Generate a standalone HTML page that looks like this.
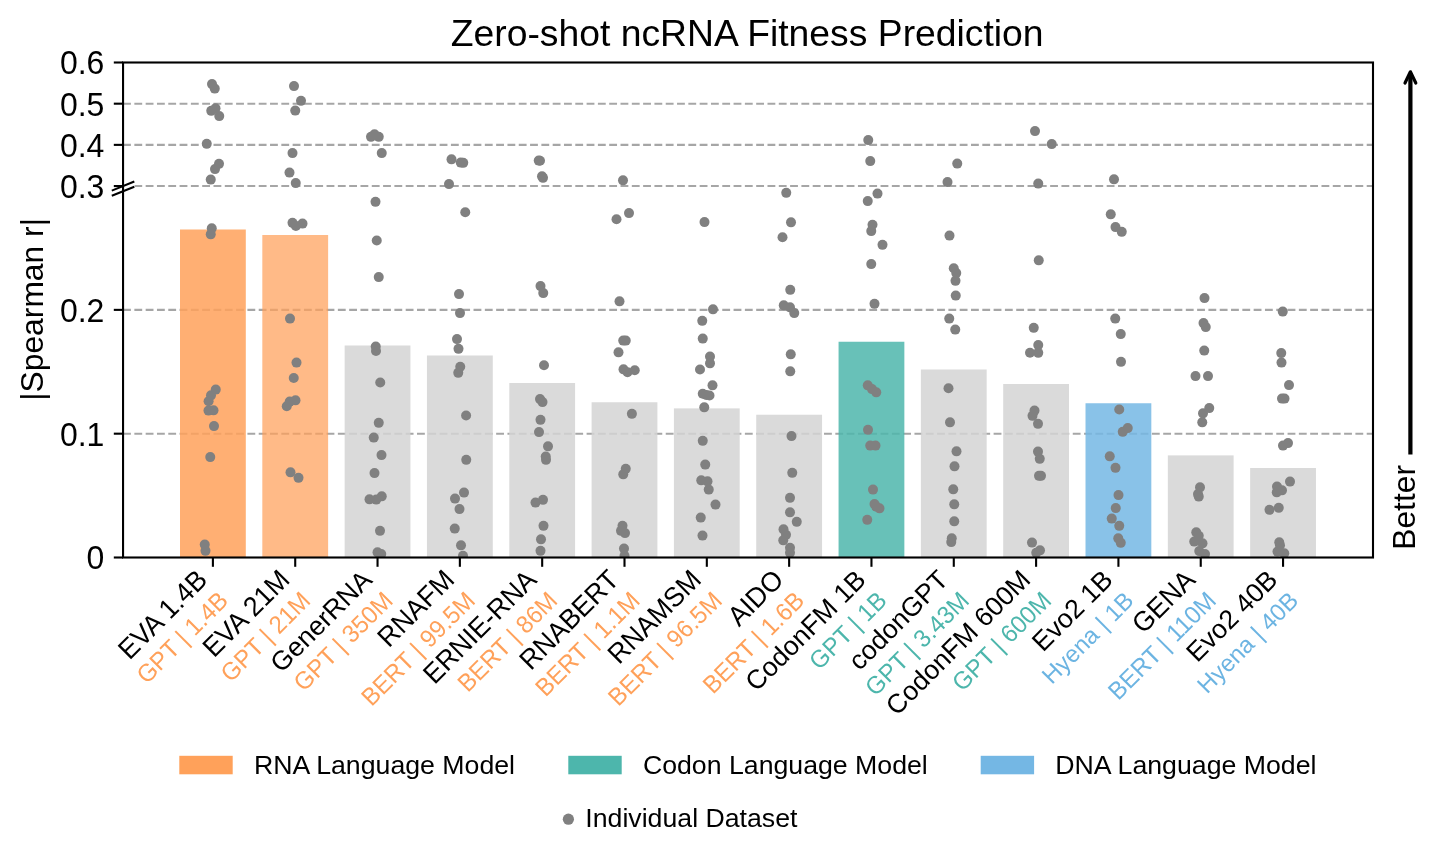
<!DOCTYPE html>
<html lang="en"><head><meta charset="utf-8"><title>Zero-shot ncRNA Fitness Prediction</title>
<style>html,body{margin:0;padding:0;background:#fff}body{width:1440px;height:852px;overflow:hidden}svg{display:block}text{font-family:"Liberation Sans",Arial,Helvetica,sans-serif;fill:#000}.yt{font-size:32px;text-anchor:end}.xl{font-size:26.7px;text-anchor:end}.xs{font-size:23.9px;text-anchor:end}.lg{font-size:26.7px}</style></head><body>
<svg width="1440" height="852" viewBox="0 0 1440 852">
<rect width="1440" height="852" fill="#fff"/>
<defs><clipPath id="ax"><rect x="123.05" y="62.5" width="1249.95" height="495.0"/></clipPath></defs>
<text x="747.2" y="46.3" font-size="37.3" text-anchor="middle">Zero-shot ncRNA Fitness Prediction</text>
<g stroke="#A6A6A6" stroke-width="2.1" stroke-dasharray="7.83 3.476" fill="none">
<line x1="123.05" y1="433.68" x2="1373.0" y2="433.68"/>
<line x1="123.05" y1="309.87" x2="1373.0" y2="309.87"/>
<line x1="123.05" y1="186.05" x2="1373.0" y2="186.05"/>
<line x1="123.05" y1="144.87" x2="1373.0" y2="144.87"/>
<line x1="123.05" y1="103.68" x2="1373.0" y2="103.68"/>
</g>
<g>
<rect x="180.00" y="229.50" width="65.8" height="328.00" fill="#FFA15A" fill-opacity="0.85"/>
<rect x="262.32" y="235.00" width="65.8" height="322.50" fill="#FFA15A" fill-opacity="0.73"/>
<rect x="344.64" y="345.50" width="65.8" height="212.00" fill="#D3D3D3" fill-opacity="0.85"/>
<rect x="426.96" y="355.50" width="65.8" height="202.00" fill="#D3D3D3" fill-opacity="0.85"/>
<rect x="509.28" y="383.00" width="65.8" height="174.50" fill="#D3D3D3" fill-opacity="0.85"/>
<rect x="591.60" y="402.25" width="65.8" height="155.25" fill="#D3D3D3" fill-opacity="0.85"/>
<rect x="673.92" y="408.40" width="65.8" height="149.10" fill="#D3D3D3" fill-opacity="0.85"/>
<rect x="756.24" y="414.75" width="65.8" height="142.75" fill="#D3D3D3" fill-opacity="0.85"/>
<rect x="838.56" y="341.75" width="65.8" height="215.75" fill="#4DB6AC" fill-opacity="0.85"/>
<rect x="920.88" y="369.50" width="65.8" height="188.00" fill="#D3D3D3" fill-opacity="0.85"/>
<rect x="1003.20" y="384.00" width="65.8" height="173.50" fill="#D3D3D3" fill-opacity="0.85"/>
<rect x="1085.52" y="403.25" width="65.8" height="154.25" fill="#74B7E4" fill-opacity="0.85"/>
<rect x="1167.84" y="455.40" width="65.8" height="102.10" fill="#D3D3D3" fill-opacity="0.85"/>
<rect x="1250.16" y="468.00" width="65.8" height="89.50" fill="#D3D3D3" fill-opacity="0.85"/>
</g>
<g fill="#808080" clip-path="url(#ax)">
<circle cx="212" cy="84.10" r="5"/>
<circle cx="214.75" cy="88.60" r="5"/>
<circle cx="215.5" cy="108.35" r="5"/>
<circle cx="211.25" cy="110.85" r="5"/>
<circle cx="219.25" cy="116.10" r="5"/>
<circle cx="206.75" cy="143.85" r="5"/>
<circle cx="219" cy="163.85" r="5"/>
<circle cx="215" cy="169.10" r="5"/>
<circle cx="210.75" cy="179.60" r="5"/>
<circle cx="211.75" cy="228.35" r="5"/>
<circle cx="210.75" cy="234.35" r="5"/>
<circle cx="215.75" cy="389.60" r="5"/>
<circle cx="211" cy="395.35" r="5"/>
<circle cx="208.6" cy="401.25" r="5"/>
<circle cx="208.5" cy="410.60" r="5"/>
<circle cx="213.5" cy="410.35" r="5"/>
<circle cx="214" cy="426.10" r="5"/>
<circle cx="210.25" cy="457.10" r="5"/>
<circle cx="204.75" cy="544.60" r="5"/>
<circle cx="205.5" cy="550.85" r="5"/>
<circle cx="294" cy="86.10" r="5"/>
<circle cx="301" cy="100.85" r="5"/>
<circle cx="295.25" cy="110.60" r="5"/>
<circle cx="292.5" cy="153.10" r="5"/>
<circle cx="289.5" cy="172.60" r="5"/>
<circle cx="295.75" cy="183.10" r="5"/>
<circle cx="292.5" cy="222.85" r="5"/>
<circle cx="295.9" cy="225.95" r="5"/>
<circle cx="302.5" cy="223.60" r="5"/>
<circle cx="290" cy="318.60" r="5"/>
<circle cx="296.5" cy="362.60" r="5"/>
<circle cx="293.75" cy="377.95" r="5"/>
<circle cx="295.5" cy="400.35" r="5"/>
<circle cx="289.75" cy="401.60" r="5"/>
<circle cx="286.75" cy="406.25" r="5"/>
<circle cx="290.5" cy="472.35" r="5"/>
<circle cx="298.5" cy="477.85" r="5"/>
<circle cx="371" cy="136.85" r="5"/>
<circle cx="374.5" cy="134.35" r="5"/>
<circle cx="378.75" cy="136.85" r="5"/>
<circle cx="381.75" cy="153.10" r="5"/>
<circle cx="375.5" cy="201.85" r="5"/>
<circle cx="376.75" cy="240.45" r="5"/>
<circle cx="378.75" cy="277.10" r="5"/>
<circle cx="375.75" cy="346.60" r="5"/>
<circle cx="376" cy="350.95" r="5"/>
<circle cx="380.25" cy="382.45" r="5"/>
<circle cx="378.75" cy="422.85" r="5"/>
<circle cx="373.75" cy="437.60" r="5"/>
<circle cx="381.5" cy="455.10" r="5"/>
<circle cx="374.5" cy="473.10" r="5"/>
<circle cx="369.5" cy="499.35" r="5"/>
<circle cx="376.25" cy="499.60" r="5"/>
<circle cx="381.75" cy="496.35" r="5"/>
<circle cx="380" cy="530.85" r="5"/>
<circle cx="377.5" cy="552.35" r="5"/>
<circle cx="381.25" cy="554.10" r="5"/>
<circle cx="451.5" cy="159.35" r="5"/>
<circle cx="460.75" cy="162.60" r="5"/>
<circle cx="463.25" cy="162.85" r="5"/>
<circle cx="449" cy="184.10" r="5"/>
<circle cx="465.25" cy="212.25" r="5"/>
<circle cx="459" cy="294.10" r="5"/>
<circle cx="460" cy="313.10" r="5"/>
<circle cx="457" cy="339.10" r="5"/>
<circle cx="458.5" cy="348.85" r="5"/>
<circle cx="460.25" cy="366.75" r="5"/>
<circle cx="458.25" cy="372.85" r="5"/>
<circle cx="466.1" cy="415.55" r="5"/>
<circle cx="466.25" cy="459.85" r="5"/>
<circle cx="464" cy="492.60" r="5"/>
<circle cx="455" cy="498.60" r="5"/>
<circle cx="459.5" cy="509.10" r="5"/>
<circle cx="454.75" cy="528.60" r="5"/>
<circle cx="461" cy="545.35" r="5"/>
<circle cx="463" cy="555.85" r="5"/>
<circle cx="538.75" cy="160.60" r="5"/>
<circle cx="540" cy="160.75" r="5"/>
<circle cx="542" cy="176.35" r="5"/>
<circle cx="543" cy="177.85" r="5"/>
<circle cx="540.5" cy="286.10" r="5"/>
<circle cx="543.25" cy="293.10" r="5"/>
<circle cx="544" cy="365.25" r="5"/>
<circle cx="540" cy="399.10" r="5"/>
<circle cx="542.5" cy="402.10" r="5"/>
<circle cx="540.5" cy="419.85" r="5"/>
<circle cx="539" cy="432.10" r="5"/>
<circle cx="548" cy="446.35" r="5"/>
<circle cx="545.75" cy="456.60" r="5"/>
<circle cx="546" cy="459.85" r="5"/>
<circle cx="543" cy="499.85" r="5"/>
<circle cx="535.5" cy="502.60" r="5"/>
<circle cx="543.5" cy="525.85" r="5"/>
<circle cx="541" cy="539.35" r="5"/>
<circle cx="540.5" cy="550.85" r="5"/>
<circle cx="623" cy="180.35" r="5"/>
<circle cx="629" cy="213.10" r="5"/>
<circle cx="616.5" cy="219.25" r="5"/>
<circle cx="619.5" cy="301.35" r="5"/>
<circle cx="623.25" cy="340.60" r="5"/>
<circle cx="625.75" cy="340.60" r="5"/>
<circle cx="618.5" cy="352.35" r="5"/>
<circle cx="623.5" cy="369.35" r="5"/>
<circle cx="627.5" cy="372.25" r="5"/>
<circle cx="634.75" cy="370.25" r="5"/>
<circle cx="631.9" cy="413.85" r="5"/>
<circle cx="625.75" cy="468.85" r="5"/>
<circle cx="623.25" cy="474.35" r="5"/>
<circle cx="622.5" cy="525.85" r="5"/>
<circle cx="621" cy="530.85" r="5"/>
<circle cx="625" cy="533.10" r="5"/>
<circle cx="624" cy="548.60" r="5"/>
<circle cx="624.5" cy="555.85" r="5"/>
<circle cx="704.5" cy="222.10" r="5"/>
<circle cx="713" cy="309.35" r="5"/>
<circle cx="702.25" cy="320.85" r="5"/>
<circle cx="702.75" cy="338.60" r="5"/>
<circle cx="710" cy="356.60" r="5"/>
<circle cx="710" cy="363.35" r="5"/>
<circle cx="700" cy="369.45" r="5"/>
<circle cx="712.5" cy="385.35" r="5"/>
<circle cx="702.75" cy="393.75" r="5"/>
<circle cx="706.25" cy="394.95" r="5"/>
<circle cx="709.5" cy="395.45" r="5"/>
<circle cx="704.25" cy="407.35" r="5"/>
<circle cx="702.75" cy="440.85" r="5"/>
<circle cx="705.25" cy="464.60" r="5"/>
<circle cx="701.25" cy="480.35" r="5"/>
<circle cx="707.5" cy="481.35" r="5"/>
<circle cx="708.75" cy="489.60" r="5"/>
<circle cx="715.5" cy="504.60" r="5"/>
<circle cx="700.75" cy="517.60" r="5"/>
<circle cx="702.5" cy="535.60" r="5"/>
<circle cx="786.25" cy="192.85" r="5"/>
<circle cx="791" cy="222.35" r="5"/>
<circle cx="782.5" cy="237.25" r="5"/>
<circle cx="790.25" cy="289.85" r="5"/>
<circle cx="783.75" cy="305.35" r="5"/>
<circle cx="790" cy="307.35" r="5"/>
<circle cx="794.25" cy="313.10" r="5"/>
<circle cx="790.75" cy="354.35" r="5"/>
<circle cx="790.25" cy="371.35" r="5"/>
<circle cx="791.5" cy="436.10" r="5"/>
<circle cx="792.25" cy="472.85" r="5"/>
<circle cx="790" cy="497.85" r="5"/>
<circle cx="790" cy="512.35" r="5"/>
<circle cx="796.75" cy="521.85" r="5"/>
<circle cx="783.5" cy="529.35" r="5"/>
<circle cx="786" cy="534.85" r="5"/>
<circle cx="783.25" cy="540.35" r="5"/>
<circle cx="790" cy="547.85" r="5"/>
<circle cx="790" cy="552.85" r="5"/>
<circle cx="868.25" cy="140.10" r="5"/>
<circle cx="870.25" cy="161.10" r="5"/>
<circle cx="877.5" cy="193.60" r="5"/>
<circle cx="867.75" cy="201.10" r="5"/>
<circle cx="872.5" cy="224.75" r="5"/>
<circle cx="871.25" cy="231.10" r="5"/>
<circle cx="882.5" cy="244.85" r="5"/>
<circle cx="871.25" cy="264.10" r="5"/>
<circle cx="874.5" cy="303.85" r="5"/>
<circle cx="867.75" cy="385.35" r="5"/>
<circle cx="872" cy="389.10" r="5"/>
<circle cx="876.25" cy="392.35" r="5"/>
<circle cx="868" cy="429.85" r="5"/>
<circle cx="870.25" cy="445.60" r="5"/>
<circle cx="875.5" cy="445.60" r="5"/>
<circle cx="873" cy="489.60" r="5"/>
<circle cx="874.5" cy="504.10" r="5"/>
<circle cx="876.25" cy="506.60" r="5"/>
<circle cx="879.5" cy="508.35" r="5"/>
<circle cx="867.25" cy="519.85" r="5"/>
<circle cx="957.25" cy="163.60" r="5"/>
<circle cx="947.5" cy="182.10" r="5"/>
<circle cx="949.5" cy="235.60" r="5"/>
<circle cx="953.75" cy="268.25" r="5"/>
<circle cx="956.25" cy="273.10" r="5"/>
<circle cx="955.5" cy="280.85" r="5"/>
<circle cx="955.75" cy="295.60" r="5"/>
<circle cx="949.25" cy="318.60" r="5"/>
<circle cx="955.25" cy="329.60" r="5"/>
<circle cx="948.5" cy="388.25" r="5"/>
<circle cx="950" cy="422.35" r="5"/>
<circle cx="956.5" cy="451.35" r="5"/>
<circle cx="954.5" cy="466.35" r="5"/>
<circle cx="953.25" cy="489.35" r="5"/>
<circle cx="954.25" cy="504.35" r="5"/>
<circle cx="954.25" cy="521.35" r="5"/>
<circle cx="951.75" cy="538.35" r="5"/>
<circle cx="951.25" cy="542.10" r="5"/>
<circle cx="1035" cy="131.10" r="5"/>
<circle cx="1051.75" cy="144.10" r="5"/>
<circle cx="1038.25" cy="183.60" r="5"/>
<circle cx="1038.75" cy="260.35" r="5"/>
<circle cx="1033.75" cy="327.85" r="5"/>
<circle cx="1038.25" cy="345.10" r="5"/>
<circle cx="1030" cy="352.75" r="5"/>
<circle cx="1038.25" cy="352.85" r="5"/>
<circle cx="1034.5" cy="410.60" r="5"/>
<circle cx="1032.5" cy="415.85" r="5"/>
<circle cx="1038" cy="423.85" r="5"/>
<circle cx="1038" cy="451.60" r="5"/>
<circle cx="1039.75" cy="458.85" r="5"/>
<circle cx="1039" cy="475.85" r="5"/>
<circle cx="1041" cy="475.85" r="5"/>
<circle cx="1032" cy="542.60" r="5"/>
<circle cx="1040" cy="550.35" r="5"/>
<circle cx="1036.25" cy="552.85" r="5"/>
<circle cx="1114" cy="179.35" r="5"/>
<circle cx="1110.75" cy="214.35" r="5"/>
<circle cx="1115.5" cy="227.10" r="5"/>
<circle cx="1121.75" cy="231.85" r="5"/>
<circle cx="1115.25" cy="318.60" r="5"/>
<circle cx="1120.75" cy="334.10" r="5"/>
<circle cx="1121" cy="361.85" r="5"/>
<circle cx="1119.25" cy="409.45" r="5"/>
<circle cx="1127.75" cy="428.10" r="5"/>
<circle cx="1122.75" cy="431.85" r="5"/>
<circle cx="1109.75" cy="456.35" r="5"/>
<circle cx="1115.5" cy="467.85" r="5"/>
<circle cx="1118.5" cy="495.10" r="5"/>
<circle cx="1115.75" cy="508.10" r="5"/>
<circle cx="1111.75" cy="518.60" r="5"/>
<circle cx="1119.25" cy="525.85" r="5"/>
<circle cx="1118.25" cy="538.35" r="5"/>
<circle cx="1120.75" cy="542.85" r="5"/>
<circle cx="1204.5" cy="298.10" r="5"/>
<circle cx="1203.5" cy="323.10" r="5"/>
<circle cx="1205.75" cy="327.10" r="5"/>
<circle cx="1204.25" cy="350.60" r="5"/>
<circle cx="1195.5" cy="376.10" r="5"/>
<circle cx="1208" cy="376.10" r="5"/>
<circle cx="1209.25" cy="408.10" r="5"/>
<circle cx="1203" cy="413.35" r="5"/>
<circle cx="1202.25" cy="422.35" r="5"/>
<circle cx="1200" cy="487.35" r="5"/>
<circle cx="1198" cy="494.10" r="5"/>
<circle cx="1198.75" cy="496.60" r="5"/>
<circle cx="1196.25" cy="532.35" r="5"/>
<circle cx="1198.75" cy="535.85" r="5"/>
<circle cx="1194.25" cy="541.60" r="5"/>
<circle cx="1202.5" cy="543.35" r="5"/>
<circle cx="1199.25" cy="551.10" r="5"/>
<circle cx="1205" cy="554.10" r="5"/>
<circle cx="1282.75" cy="311.60" r="5"/>
<circle cx="1281.25" cy="353.10" r="5"/>
<circle cx="1281.5" cy="362.60" r="5"/>
<circle cx="1289" cy="385.10" r="5"/>
<circle cx="1282" cy="398.60" r="5"/>
<circle cx="1284.5" cy="398.60" r="5"/>
<circle cx="1288" cy="443.10" r="5"/>
<circle cx="1283" cy="445.60" r="5"/>
<circle cx="1290" cy="481.60" r="5"/>
<circle cx="1277" cy="486.60" r="5"/>
<circle cx="1282" cy="490.35" r="5"/>
<circle cx="1276.75" cy="492.35" r="5"/>
<circle cx="1278.75" cy="507.85" r="5"/>
<circle cx="1269.5" cy="509.85" r="5"/>
<circle cx="1279.25" cy="542.35" r="5"/>
<circle cx="1280" cy="545.35" r="5"/>
<circle cx="1277.5" cy="551.60" r="5"/>
<circle cx="1284.25" cy="553.35" r="5"/>
</g>
<polygon points="111.8,190.6 134.3,181.5 134.3,186.7 111.8,195.8" fill="#fff"/>
<rect x="123.05" y="62.5" width="1249.95" height="495.0" fill="none" stroke="#000" stroke-width="2.1"/>
<g stroke="#000" stroke-width="2.1"><line x1="111.8" y1="190.6" x2="134.3" y2="181.5"/><line x1="111.8" y1="195.8" x2="134.3" y2="186.7"/></g>
<g stroke="#000" stroke-width="2.1">
<line x1="113.8" y1="557.50" x2="123.05" y2="557.50"/>
<line x1="113.8" y1="433.68" x2="123.05" y2="433.68"/>
<line x1="113.8" y1="309.87" x2="123.05" y2="309.87"/>
<line x1="113.8" y1="186.05" x2="123.05" y2="186.05"/>
<line x1="113.8" y1="144.87" x2="123.05" y2="144.87"/>
<line x1="113.8" y1="103.68" x2="123.05" y2="103.68"/>
<line x1="113.8" y1="62.50" x2="123.05" y2="62.50"/>
<line x1="212.90" y1="557.5" x2="212.90" y2="566.8"/>
<line x1="295.22" y1="557.5" x2="295.22" y2="566.8"/>
<line x1="377.54" y1="557.5" x2="377.54" y2="566.8"/>
<line x1="459.86" y1="557.5" x2="459.86" y2="566.8"/>
<line x1="542.18" y1="557.5" x2="542.18" y2="566.8"/>
<line x1="624.50" y1="557.5" x2="624.50" y2="566.8"/>
<line x1="706.82" y1="557.5" x2="706.82" y2="566.8"/>
<line x1="789.14" y1="557.5" x2="789.14" y2="566.8"/>
<line x1="871.46" y1="557.5" x2="871.46" y2="566.8"/>
<line x1="953.78" y1="557.5" x2="953.78" y2="566.8"/>
<line x1="1036.10" y1="557.5" x2="1036.10" y2="566.8"/>
<line x1="1118.42" y1="557.5" x2="1118.42" y2="566.8"/>
<line x1="1200.74" y1="557.5" x2="1200.74" y2="566.8"/>
<line x1="1283.06" y1="557.5" x2="1283.06" y2="566.8"/>
</g>
<text class="yt" transform="translate(104.35,569.45) scale(1,1.04)">0</text>
<text class="yt" transform="translate(104.35,445.63) scale(1,1.04)">0.1</text>
<text class="yt" transform="translate(104.35,321.82) scale(1,1.04)">0.2</text>
<text class="yt" transform="translate(104.35,198.00) scale(1,1.04)">0.3</text>
<text class="yt" transform="translate(104.35,156.82) scale(1,1.04)">0.4</text>
<text class="yt" transform="translate(104.35,115.63) scale(1,1.04)">0.5</text>
<text class="yt" transform="translate(104.35,74.45) scale(1,1.04)">0.6</text>
<text font-size="31.8" text-anchor="middle" transform="translate(43.3,309.4) rotate(-90)">|Spearman r|</text>
<g transform="translate(208.90,581.35) rotate(-45)"><text class="xl" transform="scale(1,1.035)">EVA 1.4B</text><text class="xs" transform="translate(0,29.3) scale(1,1.035)" style="fill:#FFA15A">GPT | 1.4B</text></g>
<g transform="translate(291.22,581.35) rotate(-45)"><text class="xl" transform="scale(1,1.035)">EVA 21M</text><text class="xs" transform="translate(0,29.3) scale(1,1.035)" style="fill:#FFA15A">GPT | 21M</text></g>
<g transform="translate(373.54,581.35) rotate(-45)"><text class="xl">GenerRNA</text><text class="xs" transform="translate(0,29.3) scale(1,1.035)" style="fill:#FFA15A">GPT | 350M</text></g>
<g transform="translate(455.86,581.35) rotate(-45)"><text class="xl" transform="scale(1,1.035)">RNAFM</text><text class="xs" transform="translate(0,29.3) scale(1,1.035)" style="fill:#FFA15A">BERT | 99.5M</text></g>
<g transform="translate(538.18,581.35) rotate(-45)"><text class="xl" transform="scale(1,1.035)">ERNIE-RNA</text><text class="xs" transform="translate(0,29.3) scale(1,1.035)" style="fill:#FFA15A">BERT | 86M</text></g>
<g transform="translate(620.50,581.35) rotate(-45)"><text class="xl" transform="scale(1,1.035)">RNABERT</text><text class="xs" transform="translate(0,29.3) scale(1,1.035)" style="fill:#FFA15A">BERT | 1.1M</text></g>
<g transform="translate(702.82,581.35) rotate(-45)"><text class="xl" transform="scale(1,1.035)">RNAMSM</text><text class="xs" transform="translate(0,29.3) scale(1,1.035)" style="fill:#FFA15A">BERT | 96.5M</text></g>
<g transform="translate(785.14,581.35) rotate(-45)"><text class="xl" transform="scale(1,1.035)">AIDO</text><text class="xs" transform="translate(0,29.3) scale(1,1.035)" style="fill:#FFA15A">BERT | 1.6B</text></g>
<g transform="translate(867.46,581.35) rotate(-45)"><text class="xl">CodonFM 1B</text><text class="xs" transform="translate(0,29.3) scale(1,1.035)" style="fill:#4DB6AC">GPT | 1B</text></g>
<g transform="translate(949.78,581.35) rotate(-45)"><text class="xl">codonGPT</text><text class="xs" transform="translate(0,29.3) scale(1,1.035)" style="fill:#4DB6AC">GPT | 3.43M</text></g>
<g transform="translate(1032.10,581.35) rotate(-45)"><text class="xl">CodonFM 600M</text><text class="xs" transform="translate(0,29.3) scale(1,1.035)" style="fill:#4DB6AC">GPT | 600M</text></g>
<g transform="translate(1114.42,581.35) rotate(-45)"><text class="xl">Evo2 1B</text><text class="xs" transform="translate(0,29.3)" style="fill:#6CB4E2">Hyena | 1B</text></g>
<g transform="translate(1196.74,581.35) rotate(-45)"><text class="xl" transform="scale(1,1.035)">GENA</text><text class="xs" transform="translate(0,29.3) scale(1,1.035)" style="fill:#6CB4E2">BERT | 110M</text></g>
<g transform="translate(1279.06,581.35) rotate(-45)"><text class="xl">Evo2 40B</text><text class="xs" transform="translate(0,29.3)" style="fill:#6CB4E2">Hyena | 40B</text></g>
<g stroke="#000" fill="none" stroke-linecap="round" stroke-linejoin="round"><line x1="1410.4" y1="454.6" x2="1410.4" y2="73" stroke-width="4.2" stroke-linecap="butt"/><polyline points="1405.0,83.0 1410.4,71.8 1415.8,83.0" stroke-width="3.2"/></g>
<text font-size="31.8" transform="translate(1414.6,549.8) rotate(-90)">Better</text>
<rect x="179.3" y="755.8" width="53.4" height="18.5" fill="#FFA15A"/>
<text class="lg" x="253.9" y="774.4">RNA Language Model</text>
<rect x="568.3" y="755.8" width="53.4" height="18.5" fill="#4DB6AC"/>
<text class="lg" x="642.9" y="774.4">Codon Language Model</text>
<rect x="980.7" y="755.8" width="53.4" height="18.5" fill="#74B7E4"/>
<text class="lg" x="1055.3" y="774.4">DNA Language Model</text>
<circle cx="568.4" cy="819.2" r="5.6" fill="#808080"/>
<text class="lg" x="585.3" y="826.7">Individual Dataset</text>
</svg></body></html>
